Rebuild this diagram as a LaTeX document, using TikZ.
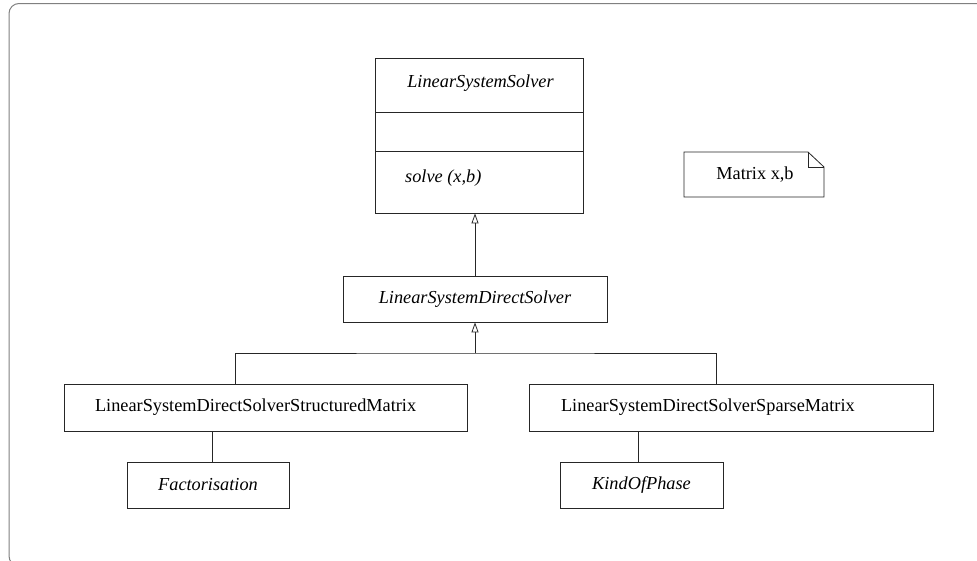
\documentclass[tikz,border=0pt]{standalone}
\usepackage{fontspec}
\setmainfont{Liberation Serif}
\usetikzlibrary{arrows.meta}
\begin{document}
\begin{tikzpicture}[x=1pt,y=-1pt,
  box/.style={draw=black!85, line width=0.8pt, rectangle, inner sep=0pt, font=\fontsize{18.3}{22}\selectfont},
  lbl/.style={inner sep=0pt, font=\fontsize{18.3}{22}\selectfont},
  link/.style={draw=black!85, line width=0.8pt},
  inherit/.style={link, -{Triangle[open, length=10pt, width=7pt]}}]
\useasboundingbox (0,0) rectangle (977,560);
\begin{scope}
\clip (0,0) rectangle (977,560);
\draw[gray, line width=1pt, rounded corners=10pt] (9,3.5) rectangle (995,566);
\end{scope}
% top class
\node[box, minimum width=208pt, minimum height=54pt] (title) at (479,85) {};
\node[box, minimum width=208pt, minimum height=39pt] (attr) at (479,131.5) {};
\node[box, minimum width=208pt, minimum height=62pt] (ops) at (479,182) {};
\node[lbl, font=\fontsize{18.3}{22}\selectfont\itshape] (titletext) at (480.5,83) {LinearSystemSolver};
\node[lbl, font=\fontsize{18.3}{22}\selectfont\itshape, anchor=west] (opstext) at (405,178) {solve (x,b)};
% middle
\node[box, font=\fontsize{18.3}{22}\selectfont\itshape, minimum width=264pt, minimum height=46pt] (mid) at (475,299) {LinearSystemDirectSolver};
% bottom
\node[box, minimum width=403pt, minimum height=47pt, text width=341pt, inner xsep=31pt, align=left] (left) at (265.5,407.5) {LinearSystemDirectSolverStructuredMatrix};
\node[box, minimum width=404pt, minimum height=47pt, text width=340pt, inner xsep=32pt, align=left] (right) at (731,407.5) {LinearSystemDirectSolverSparseMatrix};
\node[box, font=\fontsize{18.3}{22}\selectfont\itshape, minimum width=162pt, minimum height=46pt] (fact) at (208,485) {Factorisation};
\node[box, font=\fontsize{18.3}{22}\selectfont\itshape, minimum width=163pt, minimum height=46pt] (kind) at (641.5,485) {KindOfPhase};
% note
\draw[link, line join=miter] (684,152) -- (808,152) -- (824,167) -- (824,197) -- (684,197) -- cycle;
\draw[link] (808,152) -- (808,167) -- (824,167);
\node[lbl] (note) at (755,175) {Matrix x,b};
% connectors
\draw[inherit] (mid.north) -- (mid.north |- ops.south);
\coordinate (junc) at (475,353);
\draw[link] ([xshift=-30.5pt]left.north) |- (junc) -| ([xshift=-15pt]right.north);
\draw[inherit] (junc) -- (mid.south);
\draw[link] ([xshift=4pt]fact.north) -- ([xshift=4pt]fact.north |- left.south);
\draw[link] ([xshift=-3.5pt]kind.north) -- ([xshift=-3.5pt]kind.north |- right.south);
\end{tikzpicture}
\end{document}
